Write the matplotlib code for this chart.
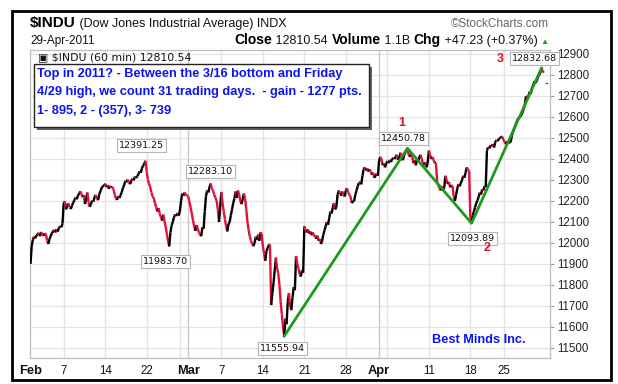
import matplotlib
matplotlib.use("Agg")
import matplotlib.pyplot as plt
import numpy as np
import pandas as pd
from matplotlib.collections import LineCollection
from matplotlib.patches import Rectangle

# ---------------- data ----------------
holidays = ["2011-02-21", "2011-04-22"]
trading_days = [d for d in pd.bdate_range("2011-02-01", "2011-04-29")
                if d.strftime("%Y-%m-%d") not in holidays]

# hourly (60 min) closes, 7 bars per trading day
hourly_close = [
    [11900, 11985, 12015, 12030, 12022, 12036, 12040],   # Feb 1
    [12048, 12032, 12052, 12040, 12034, 12046, 12042],
    [12012, 11995, 12018, 12032, 12046, 12055, 12062],
    [12050, 12066, 12054, 12072, 12080, 12074, 12092],
    [12190, 12197, 12160, 12178, 12188, 12170, 12162],   # Feb 7
    [12178, 12192, 12203, 12216, 12208, 12226, 12233],
    [12246, 12232, 12218, 12228, 12185, 12215, 12240],
    [12192, 12172, 12186, 12202, 12196, 12218, 12229],
    [12210, 12204, 12232, 12248, 12262, 12271, 12273],
    [12282, 12266, 12276, 12258, 12272, 12264, 12268],   # Feb 14
    [12255, 12232, 12212, 12205, 12222, 12214, 12227],
    [12242, 12262, 12276, 12296, 12289, 12302, 12288],
    [12280, 12296, 12306, 12298, 12316, 12309, 12318],
    [12326, 12342, 12334, 12356, 12368, 12378, 12391.25],
    [12340, 12302, 12282, 12266, 12240, 12222, 12213],   # Feb 22
    [12190, 12170, 12150, 12166, 12140, 12122, 12106],
    [12135, 12105, 12075, 12042, 12010, 11983.70, 12050],
    [12082, 12100, 12122, 12136, 12128, 12142, 12130],
    [12152, 12200, 12236, 12224, 12240, 12230, 12226],   # Feb 28
    [12222, 12198, 12170, 12142, 12110, 12082, 12058],   # Mar 1
    [12085, 12070, 12050, 12040, 12032, 12075, 12067],
    [12150, 12222, 12250, 12240, 12266, 12283.10, 12258],
    [12250, 12230, 12215, 12200, 12160, 12100, 12170],
    [12243, 12190, 12150, 12112, 12080, 12055, 12090],   # Mar 7
    [12100, 12132, 12160, 12190, 12212, 12245, 12214],
    [12250, 12230, 12200, 12185, 12210, 12235, 12213],
    [12160, 12100, 12060, 12030, 12010, 11995, 11985],
    [12000, 12030, 12015, 12040, 12010, 12050, 12044],
    [11985, 11950, 11915, 11960, 11975, 11990, 11993],   # Mar 14
    [11704, 11760, 11810, 11870, 11930, 11880, 11855],
    [11800, 11720, 11660, 11600, 11555.94, 11640, 11613],
    [11720, 11760, 11700, 11680, 11740, 11790, 11775],
    [11938, 11900, 11880, 11850, 11840, 11870, 11858],
    [12079, 12060, 12050, 12065, 12045, 12055, 12037],   # Mar 21
    [12050, 12040, 12030, 12020, 12035, 12010, 12019],
    [11995, 12010, 12040, 12060, 12080, 12100, 12086],
    [12120, 12150, 12140, 12170, 12190, 12160, 12171],
    [12230, 12250, 12240, 12225, 12245, 12230, 12221],
    [12250, 12260, 12240, 12230, 12220, 12190, 12198],   # Mar 28
    [12200, 12230, 12250, 12270, 12285, 12290, 12279],
    [12320, 12350, 12360, 12345, 12355, 12340, 12351],
    [12340, 12325, 12335, 12310, 12320, 12330, 12320],
    [12390, 12410, 12400, 12370, 12380, 12360, 12377],   # Apr 1
    [12390, 12380, 12395, 12385, 12400, 12405, 12400],   # Apr 4
    [12410, 12420, 12395, 12405, 12430, 12400, 12394],
    [12415, 12430, 12440, 12450.78, 12420, 12410, 12427],
    [12410, 12380, 12395, 12370, 12400, 12385, 12409],
    [12420, 12400, 12380, 12370, 12385, 12360, 12380],
    [12440, 12420, 12400, 12410, 12395, 12380, 12381],   # Apr 11
    [12290, 12275, 12260, 12250, 12270, 12255, 12264],
    [12320, 12300, 12280, 12290, 12265, 12275, 12271],
    [12220, 12200, 12230, 12260, 12280, 12270, 12285],
    [12300, 12320, 12310, 12335, 12360, 12350, 12342],
    [12120, 12093.89, 12130, 12150, 12170, 12190, 12202],  # Apr 18
    [12220, 12240, 12230, 12255, 12250, 12270, 12267],
    [12440, 12455, 12450, 12465, 12460, 12470, 12454],
    [12480, 12490, 12485, 12495, 12500, 12505, 12506],
    [12490, 12480, 12470, 12485, 12475, 12480, 12480],   # Apr 25
    [12510, 12530, 12545, 12560, 12575, 12590, 12595],
    [12600, 12610, 12620, 12640, 12660, 12700, 12691],
    [12700, 12720, 12710, 12740, 12750, 12770, 12763],
    [12770, 12790, 12800, 12810, 12832.68, 12820, 12810.54],
]

wave_pivots = [11555.94, 12450.78, 12093.89, 12832.68]
wave_names = ["", "1", "2", "3"]
labeled_extremes = [12391.25, 11983.70, 12283.10, 11555.94, 12450.78, 12093.89, 12832.68]

xtick_dates = ["2011-02-01", "2011-02-07", "2011-02-14", "2011-02-22", "2011-03-01",
               "2011-03-07", "2011-03-14", "2011-03-21", "2011-03-28", "2011-04-01",
               "2011-04-11", "2011-04-18", "2011-04-25"]
xtick_labels = ["Feb", "7", "14", "22", "Mar", "7", "14", "21", "28", "Apr", "11", "18", "25"]
extra_grid_dates = ["2011-02-28", "2011-04-04"]
month_starts = ["2011-02-01", "2011-03-01", "2011-04-01"]
yticks = list(range(11500, 12901, 100))

# ---------------- figure ----------------
W, H = 618, 384
fig = plt.figure(figsize=(W / 100, H / 100), dpi=100)
def fx(x): return x / W
def fy(y): return 1 - y / H

AX_L, AX_R, AX_T, AX_B = 30, 550, 50, 358
ax = fig.add_axes([fx(AX_L), fy(AX_B), (AX_R - AX_L) / W, (AX_B - AX_T) / H])

day_index = {d.strftime("%Y-%m-%d"): i for i, d in enumerate(trading_days)}
prices = np.array(hourly_close, dtype=float)
xs = (np.arange(len(trading_days))[:, None] + np.arange(7)[None, :] / 7.0).ravel()
ys = prices.ravel()

# grid
for p in yticks:
    ax.axhline(p, color="#e4e4e4", lw=0.9, zorder=0)
for d in xtick_dates[1:] + extra_grid_dates:
    c = "#c9c9c9" if d in month_starts else "#e4e4e4"
    ax.axvline(day_index[d], color=c, lw=1.0, zorder=0)

# price line coloured by direction
pts = np.column_stack([xs, ys])
segs = np.stack([pts[:-1], pts[1:]], axis=1)
cols = np.where(np.diff(ys) >= 0, "#000000", "#e0103c")
ax.add_collection(LineCollection(segs, colors=cols, linewidths=1.7, zorder=3,
                                 capstyle="butt"))

# wave lines
piv_idx = [int(np.argmin(np.abs(ys - v))) for v in wave_pivots]
ax.plot(xs[piv_idx], ys[piv_idx], color="#1f9a1f", lw=2.0, zorder=4)

# previous close dashed marker
ax.plot([xs[-1] + 0.1, xs[-1] + 0.8], [prices[-2][-1]] * 2, color="#3355ff",
        lw=1, ls=(0, (2, 2)), zorder=4)

ax.set_xlim(-0.06, 62.6)
ax.set_ylim(11452, 12919)

# label boxes
label_offsets = {12391.25: (-4, 15), 11983.70: (-4, -15), 12283.10: (0, 12),
                 11555.94: (-2, -12), 12450.78: (-4, 10), 12093.89: (1, -15),
                 12832.68: (-7, 10)}
for v in labeled_extremes:
    i = int(np.argmin(np.abs(ys - v)))
    dx, dy = label_offsets[v]
    ax.annotate(f"{v:.2f}", (xs[i], ys[i]), xytext=(dx, dy), textcoords="offset pixels",
                ha="center", va="center", fontsize=6.8, family="DejaVu Sans",
                color="#111111", zorder=6, annotation_clip=False,
                bbox=dict(boxstyle="square,pad=0.22", fc="white", ec="#b5b5b5", lw=0.8))

num_offsets = {"1": (-6, 25), "2": (16, -25), "3": (-41, 9)}
for v, n in zip(wave_pivots, wave_names):
    if not n:
        continue
    i = int(np.argmin(np.abs(ys - v)))
    dx, dy = num_offsets[n]
    ax.annotate(n, (xs[i], ys[i]), xytext=(dx, dy), textcoords="offset pixels",
                ha="center", va="center", fontsize=9, fontweight="bold",
                family="Liberation Sans", color="#e01020", zorder=6,
                annotation_clip=False)

# axes styling
for s in ax.spines.values():
    s.set_color("#bdbdbd")
    s.set_linewidth(0.9)
ax.yaxis.tick_right()
ax.set_yticks(yticks)
ax.set_yticklabels([str(t) for t in yticks])
ax.tick_params(axis="y", length=3, width=0.8, color="#9a9a9a", pad=2,
               labelsize=8.3, labelcolor="#222222")
ax.set_xticks([day_index[d] for d in xtick_dates])
ax.set_xticklabels(xtick_labels)
ax.tick_params(axis="x", length=0, pad=5, labelsize=8.3, labelcolor="#111111")
for lab in ax.get_xticklabels() + ax.get_yticklabels():
    lab.set_family("Liberation Sans")
for lab in ax.get_xticklabels():
    if lab.get_text() in ("Feb", "Mar", "Apr"):
        lab.set_fontweight("bold")
        lab.set_fontsize(9.3)

# legend inside plot
ax.text(fx(38), fy(57), "\u25A3 $INDU (60 min) 12810.54", transform=fig.transFigure,
        fontsize=7.8, family="DejaVu Sans", va="center", ha="left", color="#111111",
        zorder=7)

# annotation box with shadow
bx0, by0, bx1, by1 = 34, 64, 369, 127
fig.patches.append(Rectangle((fx(bx0 + 3), fy(by1 + 3)), (bx1 - bx0) / W, (by1 - by0) / H,
                             transform=fig.transFigure, fc="#606060", ec="none", zorder=8))
fig.patches.append(Rectangle((fx(bx0), fy(by1)), (bx1 - bx0) / W, (by1 - by0) / H,
                             transform=fig.transFigure, fc="white", ec="#222222", lw=1.0,
                             zorder=9))
box_lines = ["Top in 2011? - Between the 3/16 bottom and Friday",
             "4/29 high, we count 31 trading days.  - gain - 1277 pts.",
             "1- 895, 2 - (357), 3- 739"]
for k, line in enumerate(box_lines):
    fig.text(fx(37), fy(74 + 18.5 * k), line, fontsize=9.2, fontweight="bold",
             family="Liberation Sans", color="#0a14f0", va="center", ha="left", zorder=10)

fig.text(fx(432), fy(340), "Best Minds Inc.", fontsize=9.2, fontweight="bold",
         family="Liberation Sans", color="#0a14f0", va="center", ha="left")

# header rows
fig.canvas.draw()
renderer = fig.canvas.get_renderer()

def text_run(x, y, parts, align="left"):
    objs = []
    for txt, size, weight, color in parts:
        t = fig.text(0, fy(y), txt, fontsize=size, fontweight=weight, color=color,
                     family="Liberation Sans", va="baseline", ha="left")
        objs.append(t)
    widths = [o.get_window_extent(renderer).width for o in objs]
    total = sum(widths)
    cx = x if align == "left" else x - total
    for o, w in zip(objs, widths):
        o.set_x(fx(cx))
        cx += w

text_run(30, 27, [("$INDU", 11, "bold", "#000000"),
                  (" (Dow Jones Industrial Average) INDX", 9, "normal", "#111111")])
text_run(549, 27, [("\u00a9StockCharts.com", 8.5, "normal", "#666666")], align="right")
text_run(30, 44, [("29-Apr-2011", 8.5, "normal", "#111111")])
text_run(549, 44, [("Close", 10, "bold", "#000000"), (" 12810.54 ", 9, "normal", "#111111"),
                   ("Volume", 10, "bold", "#000000"), (" 1.1B ", 9, "normal", "#111111"),
                   ("Chg", 10, "bold", "#000000"), (" +47.23 (+0.37%) ", 9, "normal", "#111111"),
                   ("\u25B2", 6, "normal", "#1f9a1f")], align="right")

# outer frame
fig.patches.append(Rectangle((fx(12), fy(380)), (611 - 12) / W, (380 - 11) / H,
                             transform=fig.transFigure, fc="none", ec="#000000", lw=2.0,
                             zorder=20))

fig.savefig("out.png", dpi=100)
